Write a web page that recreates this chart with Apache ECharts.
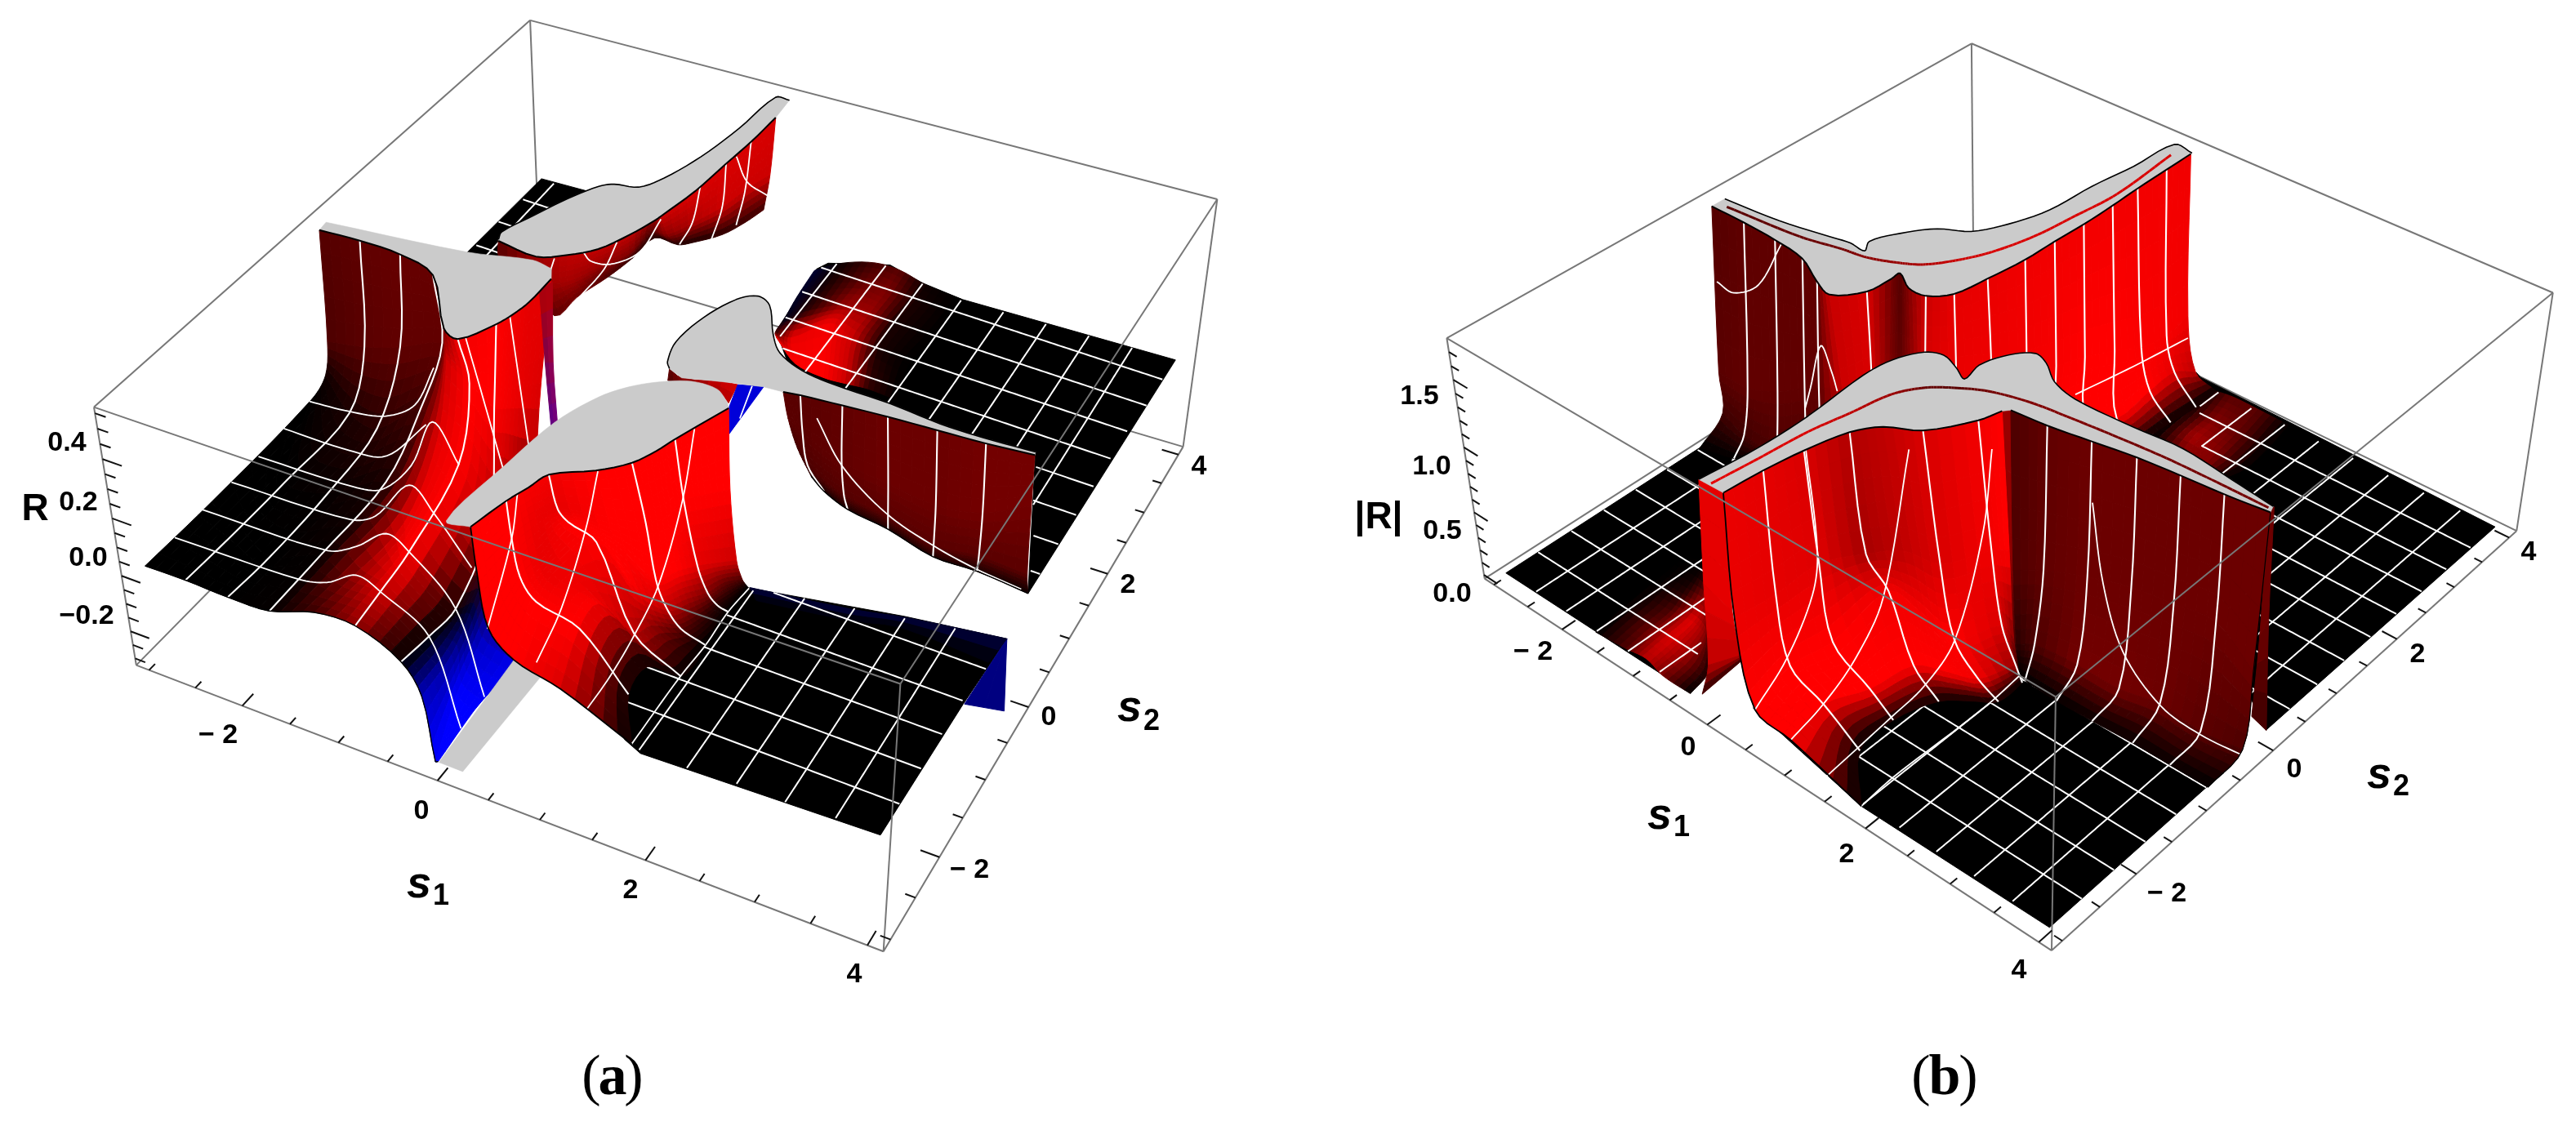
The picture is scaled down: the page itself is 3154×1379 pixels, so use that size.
<!doctype html>
<html><head><meta charset="utf-8"><style>html,body{margin:0;background:#fff}#chart{width:3154px;height:1379px}</style>
<script src="https://cdn.jsdelivr.net/npm/echarts@6/dist/echarts.min.js"></script></head><body><div id="chart"></div>
<script>
// ---------- axis data ----------
const sTicks=[-3,-2.5,-2,-1.5,-1,-.5,0,.5,1,1.5,2,2.5,3,3.5,4];
const sLabels=['\u2212 2','0','2','4'];
const sMajor=[-2,0,2,4];
const zTicksA=[-.3,-.25,-.2,-.15,-.1,-.05,0,.05,.1,.15,.2,.25,.3,.35,.4,.45,.5,.55];
const zMajorA=[-.2,0,.2,.4];
const zLabelsA=['\u22120.2','0.0','0.2','0.4'];
const zTicksB=[0,.1,.2,.3,.4,.5,.6,.7,.8,.9,1,1.1,1.2,1.3,1.4,1.5,1.6,1.7];
const zMajorB=[0,.5,1,1.5];
const zLabelsB=['0.0','0.5','1.0','1.5'];
const meshS=[-2.5625,-2.125,-1.6875,-1.25,-.8125,-.375,.0625,.5,.9375,1.375,1.8125,2.25,2.6875,3.125,3.5625];
const boxS=[-3.14,4.14], boxZA=[-.325,.57], boxZB=[-.03,1.8];
const viewA=[113.21,83.169,-29.394,753.48,37.131,-64.441,-335.85,571.63,-.0091895,.025716,-.036636];
const boxViewA=[107.45,85.453,-65.86,748.17,30.115,-58.639,-385.71,585.04,-.014748,.028562,-.0781];
const viewB=[44.027,137.59,-90.157,2369.6,38.616,-44.556,-174.79,678.59,-.02011,.02321,-.036727];

// ---------- panel (a): surface, [s1,s2,...] per rib ----------
const aBackFloor=[-2.71,3.52,-2.21,3.56,-1.97,2.46,-2.45,2.19,-2.75,2.10];
const aBackWallZ=[.55,.2,0];
const aBackWall=[[-1.48,.54,-2.07,1.54,-2.33,2.09],[-1.07,.5,-1.52,1.37,-1.53,1.65],[-.83,.66,-1.3,1.49,-1.48,2],[-.63,.87,-1.16,1.79,-1.37,2.42],[-.48,1.2,-.99,2.16,-1.3,2.8],[-.38,1.5,-.97,2.57,-1.26,3.2],[-.36,1.59,-.81,2.6,-1.01,3.21],[-.26,2.09,-.67,2.91,-.9,3.31],[-.2,2.64,-.54,3.27,-.7,3.57],[-.15,3.07,-.46,3.66,-.59,3.86],[-.12,3.54,-.37,3.96,-.52,4.14]];
const aBackWallC=[[.35,.35,.2],[.6,.6,.35],[.75,.65,.45],[.75,.6,.3],[.75,.5,.2],[.5,.35,.15],[.8,.55,.12],[.85,.7,.1],[.85,.8,.15],[.85,.8,.2],[.85,.8,.25]];
const aBackCap=[-1.49,.56,-1.52,.67,-1.38,1.05,-1.24,1.41,-1.08,1.72,-.97,1.82,-.75,1.89,-.61,2.13,-.46,2.61,-.35,3.2,-.27,3.85,-.13,3.87];
const aPurpleZ=[.55,.2,.1];
const aPurple=[[-.8,.08,-.9,.34,-.6,-.1],[-.76,.25,-.84,.38,-.58,-.02]];
const aPurpleC=[[[.7,0],[.45,.3],[.35,.55]],[[.7,0],[.6,.3],[.45,.5]]];
const aLeftZ=[0,0,0,.05,.3,.55];
const aLeft=[[-2.94,-3.03,-2.9,-2.09,-2.88,-.5,-2.85,-.29,-2.58,-.64,-2.97,-.1],[-2.54,-3.02,-2.5,-2.25,-2.48,-1.55,-2.38,-.64,-2.25,-.55,-2.57,-.06],[-2.11,-3.03,-2.07,-2.44,-2.07,-1.51,-2.05,-.71,-1.97,-.4,-2.15,-.06],[-1.71,-3.01,-1.7,-2.23,-1.7,-1.14,-1.85,-.28,-1.67,-.17,-1.74,-.18],[-1.37,-2.85,-1.32,-2.37,-1.28,-1.53,-1.49,-.6,-1.52,-.35,-1.27,-.79],[-.98,-2.83,-1.01,-2.38,-1.05,-1.85,-1.16,-.79,-1.17,-.55,-1.09,-.86],[-.42,-3.02,-.37,-2.66,-.34,-2.25,-.54,-1.32,-.81,-.74,-.9,-.52],[-.06,-3.29,-.09,-2.75,-.24,-2.12,-.42,-1.38,-.71,-.69,-.84,-.33],[.41,-3.87,.18,-3.13,.03,-2.45,-.14,-1.59,-.59,-.62,-.8,-.11],[.43,-3.86,.4,-3.23,.4,-2.57,.08,-1.7,-.46,-.56,-.79,.28]];
const aLeftC=[[0,0,0,.05,.3,.33],[0,0,0,.1,.35,.37],[0,0,.02,.15,.38,.4],[.02,.02,.1,.25,.38,.4],[.25,.5,.9,.9,.8,.45],[.6,.85,1,1,1,.95],[0,0,.05,.7,1,1],[-.75,-.6,-.15,.6,.95,.95],[-1,-1,-.75,.2,.9,.9],[-1,-1,-.9,.2,.85,.9]];
const aLeftCap=[-2.98,.03,-1.64,.26,-1.07,.44,-.86,.41];
const aLeftLines=[[-2.88,-2.67,-1.66,-2.62,-1.43,-2.54,-1.26,-2.35,-.95,-2.44,-.33,-2.71,.44,-3.51],[-2.88,-2.26,-1.64,-2.2,-1.45,-2.04,-1.31,-1.78,-1.03,-1.88,-.31,-2.31,.43,-3.11],[-2.85,-1.84,-1.68,-1.77,-1.51,-1.63,-1.46,-1.14,-1.08,-1.36,-.44,-1.81],[-2.83,-1.44,-1.88,-1.39,-1.64,-1.3,-1.58,-.9,-1.72,-.3,-1.21,-.7],[-2.84,-1.01,-2.17,-.99,-1.84,-.9,-1.75,-.36],[-2.84,-.58,-2.45,-.53,-2.13,-.43,-1.98,-.17,-2.1,.37]];
const aMidLines=[[-1.52,-.01,-.97,-.66,-.34,-1.41],[-1.33,.46,-.31,-1.02],[-1.26,.92,-.48,-.35]];
const aBackLines=[[-1.18,2.26,-1.09,1.83,-1.09,1.34],[-1.39,1.97,-1.26,1.88,-1.07,1.93,-.92,2.23,-.98,2.79],[-.89,3.46,-.69,2.89,-.64,2.52],[-.84,3.93,-.55,3.26,-.4,2.71],[-.8,4.42,-.47,3.6,-.3,3.06],[-.8,4.08,-.52,3.75,-.24,3.64],[-1.58,1.75,-1.47,1.4]];
const aSmallZ=[.55,.4];
const aSmallRed=[[.72,-.34,.53,0],[.87,-.4,.68,.05],[1.2,-.28,1.01,.07],[1.34,-.25,1.14,-.02]];
const aSmallRedC=[[.35,.3],[.5,.5],[.8,.7],[.85,.7]];
const aBlueGap=[[1.34,-.25,1.17,-.07],[1.55,-.17,1.33,-.4]];
const aBlueGapC=[[-.85,-.85],[-.85,-.85]];
const aBlueLine=[1.22,.29,1.32,-.16];
const aRightCap=[.72,-.34,.66,-.26,.6,.02,.66,.44,.8,.81,.95,.95,1.1,.88,1.31,.52,1.47,.32,1.75,.19,2.09,.15,2.61,.15,3.11,.11,3.52,.12,3.98,.16];
const aRightCapLow=[1.55,-.17,1.2,-.28,.87,-.4];
const aRightWallZ=[.55,.3,.05,0];
const aRightWall=[[1.73,-.15,1.54,.37,1.41,.86,1.62,.72],[1.88,-.12,1.74,.25,1.6,.68,1.81,.59],[2.26,-.07,2.21,.06,2.06,.47,2.1,.47],[2.67,-.02,2.69,-.01,2.53,.39,2.53,.4],[3.12,.02,3.17,-.07,3.04,.24,3.03,.26],[3.56,.06,3.57,.03,3.45,.3,3.45,.27],[3.99,.12,3.91,.32,3.92,.28,3.96,.22]];
const aRightWallC=[[.35,.35,.25,.15],[.35,.35,.3,.1],[.38,.38,.33,.12],[.42,.42,.35,.12],[.42,.42,.35,.12],[.45,.45,.35,.1],[.45,.45,.35,.05]];
const aRightWallLine=[1.47,1.15,1.95,.66,2.56,.27,3.1,.08,3.56,-.02,4,-.07];
const aHumpZ=[.03,.03,.03,.03,.03,.03];
const aHump=[[.4,3.38,.59,3.62,.87,3.78,1.14,3.79,1.46,3.7,1.86,3.66],[.43,2.91,.61,3.23,.91,3.43,1.16,3.4,1.46,3.34,1.86,3.3],[.47,2.54,.63,2.79,.9,3.03,1.16,3.05,1.43,2.97,1.84,2.91],[.48,2.33,.65,2.33,.89,2.71,1.17,2.61,1.45,2.58,1.8,2.49],[.53,2.26,.85,2,1.18,1.94,1.39,1.96,1.61,1.99,1.91,1.97]];
const aHumpC=[[-.2,.05,.25,.35,.05,0],[-.15,.1,.4,.5,.1,0],[-.1,.2,.6,.6,.1,0],[.2,.9,.95,.8,.1,0],[1,1,1,.8,.2,0]];
const aFloorRight=[.36,3.52,.42,3.66,.97,3.93,1.37,3.82,1.82,3.77,4,3.9,3.96,.22,3.32,1.97,2.04,1.87,.91,1.86,.43,2.46];
const aFloorFront=[1.84,-3.03,3.96,-2.94,3.98,-1.29,4.01,-.39,3.11,-.55,1.76,-.86,1.6,-1,1.4,-1.6,1.25,-2.2,1.3,-2.6,1.65,-2.95];
const aBlueEnd=[[3.99,-1.28,4.32,-1.2],[4.01,-.39,4.01,-.39]];
const aBlueEndC=[[-.55,-.55],[-.45,-.45]];
const aBlueTop=[[1.77,-.85,1.89,-.97],[2.68,-.68,2.71,-.82],[3.11,-.56,3.14,-.69],[4.01,-.39,3.98,-.73]];
const aBlueTopC=[[-.25,0],[-.25,0],[-.25,0],[-.25,0]];
const aClipStrip=[-.04,-3.09,-.08,-1.74,.23,-1.65,.19,-3.09];
const aFrontZ=[.55,.3,.05,.03,.02,0];
const aFront=[[.22,-2.91,.1,-2.63,.11,-2.48,.45,-2.65,.94,-2.74,1.73,-2.97],[.32,-2.5,.14,-2.12,.03,-1.8,.27,-1.95,.74,-2.04,1.44,-2.48],[.4,-2.27,.21,-1.81,.05,-1.41,.23,-1.59,.74,-1.7,1.43,-2.12],[.47,-2.05,.32,-1.64,.07,-1,.37,-1.05,1.18,-1.88,1.73,-2.09],[.79,-1.82,.74,-1.53,.56,-1.06,.9,-1.39,1.26,-1.73,1.77,-1.87],[1.01,-1.59,1.06,-1.44,1.08,-1.29,1.28,-1.49,1.5,-1.64,1.74,-1.66],[1.12,-1.36,1.19,-1.29,1.2,-1.11,1.4,-1.32,1.58,-1.49,1.76,-1.43],[1.19,-1.15,1.22,-1.04,1.32,-.97,1.52,-1.17,1.65,-1.24,1.74,-1.21],[1.28,-.91,1.35,-.89,1.45,-.86,1.59,-.99,1.71,-1.08,1.75,-1.04],[1.41,-.57,1.51,-.73,1.59,-.75,1.71,-.88,1.76,-.9,1.76,-.86]];
const aFrontC=[[1,1,1,1,.85,0],[1,1,1,1,1,.05],[.97,.92,.9,.92,.98,.02],[.95,.9,1,1,.75,0],[1,1,1,1,.6,0],[1,1,1,.8,.35,0],[1,1,1,.65,.25,0],[1,1,.9,.5,.15,0],[1,1,.85,.4,.1,0],[1,1,.8,.3,.05,0]];
const aFrontCap=[.22,-2.91,.01,-2.94,.09,-2.13,.19,-1.44,.36,-.97,.53,-.72,.74,-.53,.97,-.4,1.21,-.39,1.36,-.5];
const aFrontCross=[[.07,-2.43,-.3,-1.36,-.55,-.81],[.63,-2.59,.5,-1.92,.21,-.95,-.06,-.22],[1.26,-2.92,1.25,-2.45,1.2,-1.91,1.1,-1.28,.79,-.22,.44,.71],[1.77,-3.05,1.77,-2.18,1.79,-1.75,1.78,-1.3,1.81,-.95]];

// ---------- panel (b) ----------
const bFrontLZ=[1.76,.8,.12,.06,0];
const bFrontL=[[.34,-3.01,.26,-2.93,.38,-2.88,.83,-2.88,1.82,-3],[.38,-2.57,.31,-2.46,.21,-2.25,.74,-2.35,1.33,-2.5],[.45,-2.14,.31,-1.9,.28,-1.75,.92,-1.92,1.29,-2.01],[.57,-1.69,.54,-1.52,.18,-.87,1.01,-1.42,1.44,-1.55],[.74,-1.44,.77,-1.26,.61,-.89,1.31,-1.28,1.69,-1.33],[1.04,-1.25,1.15,-1.18,1.13,-.98,1.59,-1.16,1.86,-1.19],[1.31,-.82,1.38,-.73,1.33,-.53,1.73,-.79,1.86,-.85],[1.38,-.58,1.5,-.62,1.54,-.6,1.78,-.81,1.82,-.83]];
const bFrontLC=[[.92,.92,1,1,0],[.9,.9,1,1,0],[.85,.88,1,1,.05],[.7,.65,.95,1,.05],[.75,.75,.95,1,.05],[.85,.85,1,.95,.05],[.95,.95,.85,.6,0],[1,1,.5,.2,0]];
const bFrontRZ=[1.76,.8,.1,0];
const bFrontR=[[1.43,-.52,1.71,-.81,1.59,-.62,1.76,-.77],[1.82,-.48,1.92,-.63,1.72,-.51,1.86,-.81],[2.26,-.4,2.28,-.44,2.2,-.46,2.26,-.83],[2.7,-.32,2.67,-.29,2.7,-.46,2.68,-.82],[3.14,-.27,3.1,-.22,3.11,-.37,3.14,-.8],[3.58,-.23,3.53,-.16,3.61,-.41,3.57,-.8],[4.02,-.17,4.17,-.47,4.04,-.35,4,-.8]];
const bFrontRC=[[.3,.3,.15,0],[.38,.38,.3,0],[.42,.42,.45,0],[.42,.42,.45,.03],[.42,.42,.42,.03],[.42,.42,.35,.03],[.42,.42,.3,0]];
const bNotch=[[1.38,-.58,1.5,-.62,1.54,-.6,1.78,-.81],[1.43,-.52,1.71,-.81,1.59,-.62,1.76,-.77]];
const bNotchC=[[.9,.8,.4,0],[.3,.3,.15,0]];
const bStripL=[[.05,-3.02,-.28,-2.79,-.4,-2.72,-.29,-2.92],[.34,-3.01,.18,-2.88,-.27,-2.43,-.34,-2.36]];
const bStripLC=[[.9,.9,.8,0],[.9,.9,.7,.35]];
const bStripRZ=[1.76,.8,.05];
const bStripR=[[4,-.17,3.95,-.08,3.8,.12],[4,-.09,3.88,.15,4.01,.06]];
const bStripRC=[[.45,.45,.3],[.4,.4,.2]];
const bBackWall=[[-2.99,.08,-2.51,-.43,-3.1,.1,-3.01,-.33],[-2.54,.08,-2.1,-.43,-2.66,-.02,-2.61,-.23],[-2.09,.06,-1.83,-.28,-2.18,-.02,-2.2,-.04],[-1.66,0,-1.67,-.06,-1.99,.22,-1.83,.07],[-1.28,-.19,-1.57,.04,-1.87,.32,-1.62,.11],[-1.04,-.27,-1.39,.19,-1.65,.51,-1.43,.28],[-.81,0,-1.35,.57,-1.65,.86,-1.43,.62],[-.78,.31,-1.21,.69,-1.53,.96,-1.31,.72],[-.78,.43,-1.13,.76,-1.43,1.05,-1.22,.81],[-.55,.3,-1.05,.83,-1.35,1.12,-1.14,.88],[-.34,.31,-.94,.92,-1.24,1.22,-1.02,.98],[-.16,.51,-.71,1.13,-.99,1.43,-.78,1.19],[-.09,.91,-.44,1.36,-.54,1.47,-.5,1.43],[-.03,1.39,-.17,1.59,-.26,1.71,-.22,1.67],[-.02,1.82,-.02,1.87,-.2,2.11,.15,2.13],[0,2.24,.1,2.18,-.14,2.52,.35,2.51],[0,2.69,.26,2.46,.1,2.74,.41,2.85],[-.01,3.1,.43,2.68,.06,3.35,.44,3.23],[-.01,3.57,.49,3.02,.05,3.79,.48,3.62],[-.01,3.97,.45,3.43,.22,3.94,.47,3.99]];
const bBackWallC=[[.33,.35,.25,0],[.37,.38,.25,0],[.37,.38,.3,.1],[.37,.38,.3,.1],[.37,.38,.3,.1],[.78,.8,.5,.3],[.85,.85,.6,.3],[.45,.5,.4,.2],[.33,.36,.3,.2],[.5,.55,.4,.2],[.8,.85,.6,.3],[.9,.92,.8,.3],[.92,.93,.9,.4],[.94,.95,.95,.5],[.95,.97,1,.05],[.95,1,1,0],[.95,1,1,0],[.95,.98,1,0],[.95,.97,.9,0],[.95,.95,.75,0]];
const bBackCap=[-2.99,.26,-2.3,.33,-1.73,.45,-1.5,.5,-1.3,.49,-1.38,.64,-1.25,.94,-1.03,1.24,-.75,1.42,-.56,1.76,-.42,2.22,-.38,2.83,-.3,3.4,-.25,4.01,-.01,3.99];
const bBackSing=[-2.87,.17,-1.95,.26,-1.49,.37,-1.21,.42,-.9,.56,-.7,.7,-.51,.97,-.36,1.28,-.23,1.75,-.16,2.3,-.1,2.88,-.15,3.82];
const bBackSingC=[.35,.4,.45,.55,.6,.7,.8,.85,.85,.85,.85,.85];
const bFrontCap=[.05,-3.02,.12,-2.37,.13,-1.76,.08,-1,.12,-.65,.26,-.37,.43,-.29,.64,-.36,.81,-.44,.77,-.19,.87,.1,1.04,.28,1.21,.23,1.45,.06,1.76,-.02,2.41,0,2.93,.04,3.52,-.03,3.99,-.09];
const bFrontSing=[.17,-2.99,.23,-2.48,.29,-1.92,.38,-1.49,.47,-1.04,.63,-.77,.83,-.6,1.09,-.44,1.48,-.32,1.91,-.26,2.34,-.21,2.9,-.16,3.43,-.14,3.97,-.13];
const bFrontSingC=[.9,.88,.85,.75,.6,.4,.35,.45,.5,.5,.45,.45,.45,.45];
const bBandL=[[-1.64,-3.02,-1.25,-2.99,-1,-2.96,-.71,-3.02,-.34,-3.02],[-1.69,-2.69,-1.29,-2.66,-1.04,-2.63,-.74,-2.69,-.42,-2.71],[-1.73,-2.35,-1.32,-2.33,-1.08,-2.3,-.86,-2.34,-.65,-2.48],[-1.77,-2.01,-1.45,-2,-1.19,-2.01,-1.04,-2.11,-.9,-2.24],[-1.82,-1.66,-1.58,-1.65,-1.48,-1.7,-1.32,-1.83,-1.17,-1.96]];
const bBandLC=[[0,.3,.75,.45,0],[0,.4,.85,.6,.1],[0,.3,.9,.6,.15],[0,.1,.6,.3,.1],[0,0,.05,0,0]];
const bBandR=[[.47,2.77,.91,2.73,1.2,2.76,1.46,2.76],[.45,3.1,.81,3.14,1.16,3.1,1.54,3.06],[.43,3.47,.78,3.54,1.11,3.52,1.51,3.52],[.37,3.9,.68,3.97,1.04,3.97,1.44,3.96]];
const bBandRC=[[0,.4,.55,0],[0,.65,.5,0],[0,.5,.4,0],[0,.35,.35,0]];
const bFloorLeft=[-3,-2.98,-.38,-2.98,-1.02,-2.15,-2.64,-.23,-3.01,-.33];
const bFloorFront=[1.82,-3,3.99,-2.99,3.99,-.81,3.97,-.32,1.81,-.84,.2,-2.74];
const bFloorRight=[3.96,.13,3.97,4,1.28,4.06,.19,4.08,.1,4.12,1.53,2.39,3.3,.59];
const bFrontCross=[[.48,-2.97,.22,-2.3,-.23,-1.49,-.65,-.99,-1.86,.09],[1,-3.04,.9,-2.52,.7,-1.88,.31,-1.08,-1.06,.78],[1.56,-3.17,1.48,-2.22,1.43,-1.73,1.23,-1.09,.4,.26,-.42,1.34],[2.04,-3.22,2.01,-2.78,2.03,-1.92,2.03,-1.48,2,-1.06],[.91,1.34,1.77,.45,2.52,-.18,3.23,-.52,3.73,-.58,4.2,-.54],[-.37,2.62,-.22,3.42,-.1,4.21]];
const bArcLeft=[-3.51,.53,-3.23,.5,-3.14,.77,-3.5,1.47];
const bArcMid=[-2.03,.27,-2.25,.58,-2.69,1.19,-2.27,.92,-2,.72];

// ---------- layout of the texts (page pixels) ----------
const posS1A=[[267,901],[516,994],[772,1091],[1046,1194]],posS2A=[[1187,1066],[1284,879],[1381,717],[1468,572]],posZA=[[106,755],[108,684],[96,616],[82,543]];
const posS1B=[[1877,799],[2067,916],[2261,1047],[2472,1189]],posS2B=[[2653,1095],[2809,943],[2960,802],[3096,677]],posZB=[[1778,728],[1766,651],[1753,572],[1738,486]];

// ---------- drawing ----------
const prims=[];
const RED=v=>Array.isArray(v)?v:(v>=0?[v,0]:[0,-v]);
const css=c=>`rgb(${Math.round(c[0]*255)},0,${Math.round(c[1]*255)})`;
function proj(c,s1,s2,z){const d=1+c[8]*s1+c[9]*s2+c[10]*z;return[(c[0]*s1+c[1]*s2+c[2]*z+c[3])/d,(c[4]*s1+c[5]*s2+c[6]*z+c[7])/d]}
function pairs(cam,f,z){const o=[];for(let i=0;i<f.length;i+=2)o.push(proj(cam,f[i],f[i+1],z));return o}
function dense(p,n){const N=p.length;if(N<2)return p.slice();const d=[];for(let i=0;i<N-1;i++)d.push(Math.max(.01,Math.hypot(p[i+1][0]-p[i][0],p[i+1][1]-p[i][1])));
 const T=[];for(let i=0;i<N;i++){const a=p[Math.max(0,i-1)],b=p[Math.min(N-1,i+1)],l=(i>0?d[i-1]:0)+(i<N-1?d[i]:0);T.push([(b[0]-a[0])/l,(b[1]-a[1])/l])}
 const o=[];for(let i=0;i<N-1;i++)for(let k=0;k<n;k++){const t=k/n,t2=t*t,t3=t2*t,h1=2*t3-3*t2+1,h2=t3-2*t2+t,h3=-2*t3+3*t2,h4=t3-t2;o.push([h1*p[i][0]+h2*d[i]*T[i][0]+h3*p[i+1][0]+h4*d[i]*T[i+1][0],h1*p[i][1]+h2*d[i]*T[i][1]+h3*p[i+1][1]+h4*d[i]*T[i+1][1]])}
 o.push(p[N-1]);return o}
const line=(pts,color,w)=>prims.push({k:'l',pts,color,w});
const fill=(pts,color,stroke,w)=>prims.push({k:'p',pts,color,stroke:stroke||color,w:w===undefined?1:w});
function patch(cam,ribs,zs,cols,ru=4,rv=5){
 const zAt=j=>zs[j%zs.length];
 const rr=ribs.map(r=>{const o=[];for(let j=0;j<r.length/2;j++)o.push(proj(cam,r[2*j],r[2*j+1],zAt(j)));return dense(o,rv)});
 const J=rr[0].length;const G=[];
 for(let j=0;j<J;j++){const a=dense(rr.map(r=>r[j]),ru);a.forEach((q,i)=>{(G[i]=G[i]||[])[j]=q})}
 const colAt=(i,j)=>{const t=i/ru,f=j/rv,i0=Math.min(ribs.length-2,Math.floor(t)),j0=Math.min(cols[0].length-2,Math.floor(f)),u=t-i0,v=f-j0;
  const g=(a,b)=>RED(cols[a][b]);return[0,1].map(x=>(1-u)*((1-v)*g(i0,j0)[x]+v*g(i0,j0+1)[x])+u*((1-v)*g(i0+1,j0)[x]+v*g(i0+1,j0+1)[x]))};
 for(let i=0;i<G.length-1;i++)for(let j=0;j<J-1;j++){const c=colAt(i+.5,j+.5);fill([G[i][j],G[i+1][j],G[i+1][j+1],G[i][j+1]],css(c))}
 return{G,ru,rv,tops:G.map(r=>r[0]),rib:k=>G[Math.round(k*ru)],row:k=>G.map(r=>r[Math.round(k*rv)])};
}
const WHITE='#fff',BLACK='#000',GREY='#cbcbcb';
const whiteRibs=(P,ks)=>ks.forEach(k=>line(P.rib(k),WHITE,2.1));
function traced(cam,list,z){list.forEach(f=>line(dense(pairs(cam,f,z),8),WHITE,1.8))}
function cap(cam,back,z,P,outlineBack,extra,tops){tops=tops||P.tops;const b=dense(pairs(cam,back,z),5);const e=extra?dense(pairs(cam,extra,z),4):[];
 fill(b.concat(tops.slice().reverse()).concat(e),GREY,GREY,.6);line(tops,BLACK,2);if(outlineBack)line(b,BLACK,1.6)}
function inPoly(x,y,f){let r=false;const n=f.length/2;for(let i=0,j=n-1;i<n;j=i++){const xi=f[2*i],yi=f[2*i+1],xj=f[2*j],yj=f[2*j+1];if((yi>y)!=(yj>y)&&x<(xj-xi)*(y-yi)/(yj-yi)+xi)r=!r}return r}
function floorPoly(cam,f){fill(pairs(cam,f,0),BLACK)}
function floorMesh(cam,f){for(const m of meshS)for(const axis of[0,1]){let seg=[];for(let t=-3;t<=4.001;t+=.03){const a=axis?t:m,b=axis?m:t;if(inPoly(a,b,f))seg.push(proj(cam,a,b,0));else{if(seg.length>1)line(seg,WHITE,2);seg=[]}}if(seg.length>1)line(seg,WHITE,2)}}
function toned(cam,f,z,tones,w){const p=pairs(cam,f,z),n=10,d=dense(p,n);for(let i=0;i<d.length-1;i++){const t=i/n,a=Math.min(tones.length-2,Math.floor(t)),u=t-a;line([d[i],d[i+1]],css([tones[a]*(1-u)+tones[a+1]*u,0]),w)}}
const texts=[];
const tickFont='bold 34px "Liberation Sans"';
function box(cam,zR,zT,zM,labS1,labS2,labZ,zLab){
 const[a,b]=boxS,[z0,z1]=zR,P=(s,t,z)=>proj(cam,s,t,z);
 return{back(){line([P(a,a,z0),P(a,b,z0)],'#777',2);line([P(a,b,z0),P(b,b,z0)],'#777',2);line([P(a,b,z0),P(a,b,z1)],'#777',2)},
 front(){const G='#777';[[[a,a,z1],[b,a,z1]],[[b,a,z1],[b,b,z1]],[[a,a,z1],[a,b,z1]],[[a,b,z1],[b,b,z1]],[[a,a,z0],[b,a,z0]],[[b,a,z0],[b,b,z0]],[[a,a,z0],[a,a,z1]],[[b,a,z0],[b,a,z1]],[[b,b,z0],[b,b,z1]]].forEach(e=>line([P(...e[0]),P(...e[1])],G,2));
  for(const s of sTicks){const M=sMajor.includes(s)?.17:.09;line([P(s,a,z0),P(s,a+M,z0)],'#111',2);line([P(b,s,z0),P(b-M,s,z0)],'#111',2)}
  for(const z of zT){const M=zM.includes(z)?.2:.11;line([P(a,a,z),P(a+M,a,z)],'#111',2)}
  sLabels.forEach((t,i)=>{texts.push({x:labS1[i][0],y:labS1[i][1],t,f:tickFont});texts.push({x:labS2[i][0],y:labS2[i][1],t,f:tickFont})});
  zLab.forEach((t,i)=>texts.push({x:labZ[i][0],y:labZ[i][1],t,f:tickFont}));
 }}
}
// panel (a)
const A=viewA,boxA=box(boxViewA,boxZA,zTicksA,zMajorA,posS1A,posS2A,posZA,zLabelsA);
boxA.back();
floorPoly(A,aBackFloor);floorMesh(A,aBackFloor);
const pBack=patch(A,aBackWall,aBackWallZ,aBackWallC);traced(A,aBackLines,.2);cap(A,aBackCap,.55,pBack,true);
floorPoly(A,aFloorRight);patch(A,aHump,aHumpZ,aHumpC);floorMesh(A,aFloorRight);
const pLeft=patch(A,aLeft,aLeftZ,aLeftC);whiteRibs(pLeft,[1,2,3,5,6]);line(pLeft.row(0),BLACK,1.4);traced(A,aLeftLines,.02);traced(A,aMidLines,.3);
patch(A,aPurple,aPurpleZ,aPurpleC,2,3);cap(A,aLeftCap,.55,pLeft,false,null,pLeft.row(5));
patch(A,aSmallRed,aSmallZ,aSmallRedC,3,2);patch(A,aBlueGap,aSmallZ,aBlueGapC,1,2);traced(A,[aBlueLine],.4);
const pRW=patch(A,aRightWall,aRightWallZ,aRightWallC);whiteRibs(pRW,[1,2,3,4,5]);traced(A,[aRightWallLine],.1);line(pRW.row(3),BLACK,1.4);
cap(A,aRightCap,.55,pRW,true,aRightCapLow);
floorPoly(A,aFloorFront);patch(A,aBlueEnd,[0],aBlueEndC,1,2);patch(A,aBlueTop,[0],aBlueTopC,3,2);floorMesh(A,aFloorFront);
fill(pairs(A,aClipStrip,-.3),GREY,GREY,.6);
const pFront=patch(A,aFront,aFrontZ,aFrontC);whiteRibs(pFront,[1,3,5,7]);traced(A,aFrontCross,.03);line(pFront.rib(0),BLACK,1.8);cap(A,aFrontCap,.55,pFront,false);
boxA.front();
// panel (b)
const B=viewB,boxB=box(B,boxZB,zTicksB,zMajorB,posS1B,posS2B,posZB,zLabelsB);
boxB.back();
floorPoly(B,bFloorLeft);patch(B,bBandL,[.03],bBandLC);floorMesh(B,bFloorLeft);
floorPoly(B,bFloorRight);patch(B,bBandR,[.03],bBandRC);floorMesh(B,bFloorRight);
const qBack=patch(B,bBackWall,bFrontRZ,bBackWallC);whiteRibs(qBack,[1,2,3,4,6,10,11,12,13,14,15,16,17,18]);traced(B,[bArcLeft],.9);traced(B,[bArcMid],.4);
cap(B,bBackCap,1.76,qBack,true);toned(B,bBackSing,1.76,bBackSingC,3);
floorPoly(B,bFloorFront);floorMesh(B,bFloorFront);
patch(B,bStripR,bStripRZ,bStripRC,1,3);patch(B,bStripL,bFrontRZ,bStripLC,1,3);patch(B,bNotch,bFrontRZ,bNotchC,1,5);
const qL=patch(B,bFrontL,bFrontLZ,bFrontLC),qR=patch(B,bFrontR,bFrontRZ,bFrontRC);
whiteRibs(qL,[1,2,3,5,6]);whiteRibs(qR,[1,2,3,4,5]);traced(B,bFrontCross,.2);
line(qL.rib(0),BLACK,1.8);line(qR.rib(6),BLACK,1.2);
{const b=dense(pairs(B,bFrontCap,1.76),5);fill(b.concat(qR.tops.slice().reverse()).concat(qL.tops.slice().reverse()),GREY,GREY,.6);line(qL.tops,BLACK,2);line(qR.tops,BLACK,2);line(b,BLACK,1.6)}
toned(B,bFrontSing,1.76,bFrontSingC,3);
boxB.front();

// axis titles and panel letters
const titleFont='bold italic 54px "Liberation Sans"',subFont='bold 36px "Liberation Sans"',parenFont='70px "Liberation Serif"',letterFont='bold 70px "Liberation Serif"';
texts.push({x:513,y:1084,t:'s',f:titleFont},{x:540,y:1098,t:'1',f:subFont},{x:1383,y:868,t:'s',f:titleFont},{x:1410,y:884,t:'2',f:subFont},{x:43,y:624,t:'R',f:'bold 46px "Liberation Sans"'},
 {x:2032,y:1000,t:'s',f:titleFont},{x:2059,y:1014,t:'1',f:subFont},{x:2913,y:950,t:'s',f:titleFont},{x:2940,y:964,t:'2',f:subFont},{x:1688,y:634,t:'|R|',f:'bold 46px "Liberation Sans"'},
 {x:724,y:1322,t:'(',f:parenFont},{x:750,y:1322,t:'a',f:letterFont},{x:776,y:1322,t:')',f:parenFont},
 {x:2352,y:1322,t:'(',f:parenFont},{x:2381,y:1322,t:'b',f:letterFont},{x:2410,y:1322,t:')',f:parenFont});

const chart=echarts.init(document.getElementById('chart'),null,{renderer:'canvas',devicePixelRatio:1});
const all=prims.map((p,i)=>i),tn=texts.map((t,i)=>i);
chart.setOption({animation:false,backgroundColor:'#fff',
 grid:{left:0,right:0,top:0,bottom:0},
 xAxis:{type:'value',min:0,max:3154,show:false},yAxis:{type:'value',min:0,max:1379,inverse:true,show:false},
 series:[{type:'custom',coordinateSystem:'cartesian2d',silent:true,clip:false,progressive:0,data:all,
  renderItem(params,api){const p=prims[params.dataIndex],pts=p.pts.map(q=>api.coord(q));
   if(p.k==='p')return{type:'polygon',shape:{points:pts},style:{fill:p.color,stroke:p.stroke,lineWidth:p.w}};
   return{type:'polyline',shape:{points:pts},style:{fill:null,stroke:p.color,lineWidth:p.w,lineJoin:'round'}}}},
  {type:'custom',coordinateSystem:'cartesian2d',silent:true,clip:false,z:5,data:tn,
  renderItem(params,api){const t=texts[params.dataIndex],q=api.coord([t.x,t.y]);return{type:'text',style:{x:q[0],y:q[1],text:t.t,font:t.f,fill:'#000',align:'center',verticalAlign:'middle'}}}}]});
</script></body></html>
